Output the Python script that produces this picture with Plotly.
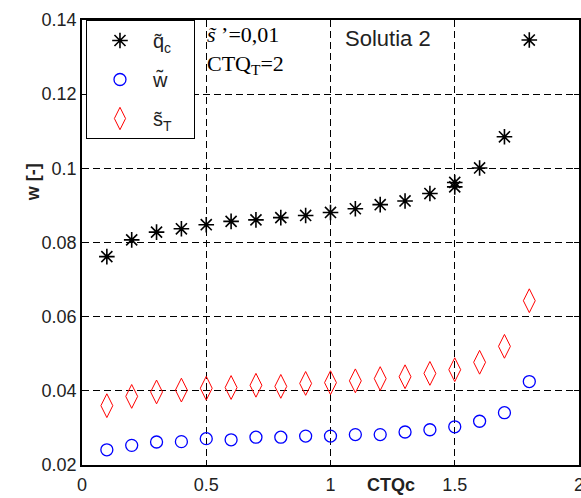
import plotly.graph_objects as go

x_vals = [0.1, 0.2, 0.3, 0.4, 0.5, 0.6, 0.7, 0.8, 0.9, 1.0, 1.1, 1.2, 1.3, 1.4, 1.5, 1.6, 1.7, 1.8]
q_c = [0.0762, 0.0807, 0.0828, 0.0837, 0.0848, 0.0857, 0.0861, 0.0867, 0.0873, 0.0881,
       0.0891, 0.0902, 0.0912, 0.0932, 0.0962, 0.1001, 0.1085, 0.1346]
q_c_extra_x = [1.5]
q_c_extra = [0.0950]
w_vals = [0.0241, 0.0253, 0.0262, 0.0263, 0.0271, 0.0268, 0.0275, 0.0275, 0.0278, 0.0278,
          0.0282, 0.0282, 0.0289, 0.0295, 0.0303, 0.0318, 0.0341, 0.0425]
s_T = [0.0360, 0.0385, 0.0397, 0.0402, 0.0407, 0.0409, 0.0415, 0.0412, 0.0420, 0.0422,
       0.0427, 0.0433, 0.0438, 0.0447, 0.0457, 0.0477, 0.0520, 0.0643]

x_ticks = [0, 0.5, 1, 1.5, 2]
x_ticklabels = ["0", "0.5", "1", "1.5", "2"]
y_ticks = [0.02, 0.04, 0.06, 0.08, 0.10, 0.12, 0.14]
y_ticklabels = ["0.02", "0.04", "0.06", "0.08", "0.1", "0.12", "0.14"]

pad = "\u00a0" * 3

fig = go.Figure()
fig.add_trace(go.Scatter(
    x=x_vals + q_c_extra_x, y=q_c + q_c_extra, mode="markers", name="q\u0303<sub>c</sub>" + pad,
    legendgroup="a",
    marker=dict(symbol="asterisk-open", size=13, color="black", line=dict(color="black", width=1.6)),
))
fig.add_trace(go.Scatter(
    x=x_vals, y=w_vals, mode="markers", name="w\u0303" + pad,
    legendgroup="b",
    marker=dict(symbol="circle-open", size=12, color="blue", line=dict(color="blue", width=1.3)),
))
fig.add_trace(go.Scatter(
    x=x_vals, y=s_T, mode="markers", name="s\u0303<sub>T</sub>" + pad,
    legendgroup="c",
    marker=dict(symbol="diamond-tall-open", size=17, color="red", line=dict(color="red", width=1)),
))

axis_common = dict(
    showline=True, linecolor="black", linewidth=1.5, mirror="ticks",
    ticks="inside", ticklen=5, tickcolor="black",
    showgrid=True, gridcolor="black", gridwidth=1, griddash="7px,4px",
    zeroline=False, automargin=False, ticklabeloverflow="allow",
    tickfont=dict(family="Liberation Sans, Arial", size=18, color="#222"),
)

fig.update_xaxes(range=[0, 2], tickvals=x_ticks, ticktext=x_ticklabels, ticklabelstandoff=3, **axis_common)
fig.update_yaxes(range=[0.02, 0.14], tickvals=y_ticks, ticktext=y_ticklabels, **axis_common)

fig.add_shape(type="rect", xref="paper", yref="paper", x0=0.235, x1=0.497, y0=0.85, y1=1.0,
              fillcolor="white", line=dict(width=0), layer="between")

fig.add_annotation(xref="paper", yref="paper", x=0.248, y=1.0, xanchor="left", yanchor="top",
                   text="<i>s\u0303</i> \u2019=0,01<br>CTQ<sub>T</sub>=2", showarrow=False, align="left",
                   font=dict(family="Liberation Serif, Times New Roman", size=22, color="black"))
fig.add_annotation(xref="paper", yref="paper", x=0.525, y=0.99, xanchor="left", yanchor="top",
                   text="Solutia 2", showarrow=False,
                   font=dict(family="Liberation Sans, Arial", size=22, color="#222"))
fig.add_annotation(xref="paper", yref="paper", x=-0.121, y=0.635, textangle=-90,
                   text="<b>w [-]</b>", showarrow=False,
                   font=dict(family="Liberation Sans, Arial", size=18, color="#222"))
fig.add_annotation(xref="paper", yref="paper", x=0.622, y=-0.072,
                   text="<b>CTQc</b>", showarrow=False,
                   font=dict(family="Liberation Sans, Arial", size=18, color="#222"))

fig.update_layout(
    width=581, height=498,
    margin=dict(l=82, r=2, t=20, b=33, autoexpand=False),
    paper_bgcolor="white", plot_bgcolor="white",
    showlegend=True,
    legend=dict(x=0.008, y=1.0, xanchor="left", yanchor="top",
                bgcolor="white", bordercolor="black", borderwidth=1,
                font=dict(family="Liberation Sans, Arial", size=20, color="#222"),
                itemwidth=56,
                tracegroupgap=10, traceorder="grouped"),
)

fig.write_html("out.html", config={"displayModeBar": False},
               post_script="document.body.style.margin='0';document.body.style.overflow='hidden';")
